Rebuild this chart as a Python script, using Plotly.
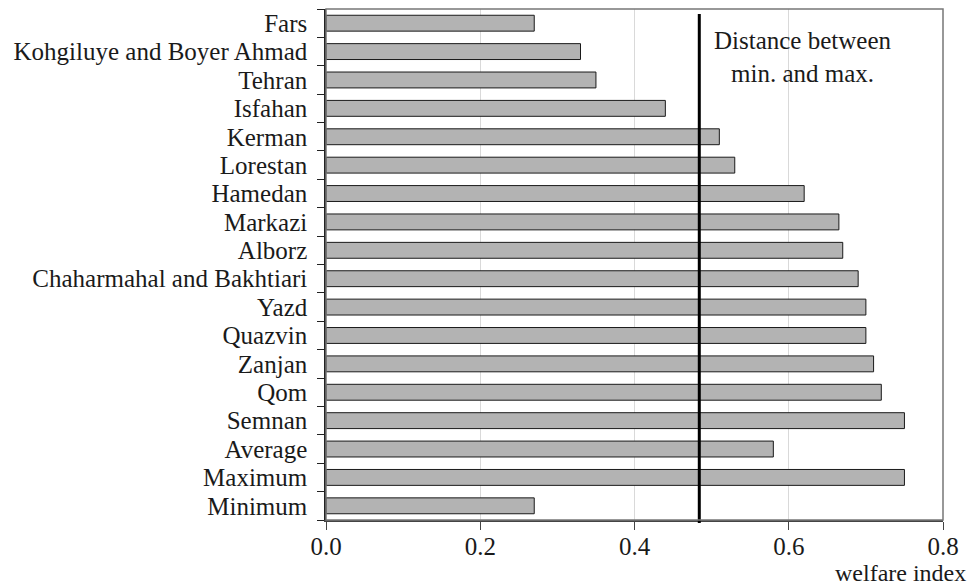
import plotly.graph_objects as go

regions = ["Fars", "Kohgiluye and Boyer Ahmad", "Tehran", "Isfahan", "Kerman",
           "Lorestan", "Hamedan", "Markazi", "Alborz", "Chaharmahal and Bakhtiari",
           "Yazd", "Quazvin", "Zanjan", "Qom", "Semnan", "Average", "Maximum", "Minimum"]
welfare = [0.27, 0.33, 0.35, 0.44, 0.51, 0.53, 0.62, 0.665, 0.67, 0.69,
           0.70, 0.70, 0.71, 0.72, 0.75, 0.58, 0.75, 0.27]
distance_value = 0.484
x_ticks = [0.0, 0.2, 0.4, 0.6, 0.8]
x_tick_labels = ["0.0", "0.2", "0.4", "0.6", "0.8"]

FONT = "Liberation Serif"
FS = 25

fig = go.Figure()
fig.add_trace(go.Bar(
    x=welfare, y=regions, orientation="h",
    marker=dict(color="#b3b3b3", line=dict(color="#1a1a1a", width=1)),
    showlegend=False,
))

fig.add_shape(type="line", xref="x", yref="paper",
              x0=distance_value, x1=distance_value, y0=-0.006, y1=0.99,
              line=dict(color="black", width=3))
fig.add_shape(type="rect", xref="paper", yref="paper", x0=0, x1=1, y0=0, y1=1,
              line=dict(color="#777777", width=1.5), layer="above")

fig.add_annotation(xref="x", yref="paper", x=0.618, y=0.968,
                   text="Distance between<br>min. and max.", showarrow=False,
                   xanchor="center", yanchor="top", align="center",
                   font=dict(family=FONT, size=FS, color="#1a1a1a"))
fig.add_annotation(xref="paper", yref="paper", x=1.041, y=-0.1328,
                   text="welfare index", showarrow=False,
                   xanchor="right", yanchor="bottom",
                   font=dict(family=FONT, size=24, color="#1a1a1a"))

fig.update_layout(
    width=969, height=588,
    margin=dict(l=326, r=26, t=9, b=68),
    paper_bgcolor="white", plot_bgcolor="white",
    bargap=0.44,
    font=dict(family=FONT, size=FS, color="#1a1a1a"),
    xaxis=dict(range=[0, 0.8], tickvals=x_ticks, ticktext=x_tick_labels,
               showgrid=True, gridcolor="#d9d9d9", gridwidth=1,
               showline=True, linecolor="#444444", linewidth=1.5,
               ticks="outside", ticklen=8, tickcolor="#444444",
               zeroline=False, ticklabelstandoff=-5),
    yaxis=dict(autorange="reversed", type="category",
               tickmode="array", tickvals=regions, ticktext=regions,
               showgrid=False, showline=True, linecolor="#222222", linewidth=1.5,
               ticks="outside", ticklen=7, tickcolor="#222222",
               tickson="boundaries", ticklabelstandoff=12),
)

fig.write_html(
    "out.html",
    config={"displayModeBar": False},
    post_script="document.body.style.margin='0';document.body.style.overflow='hidden';",
)
